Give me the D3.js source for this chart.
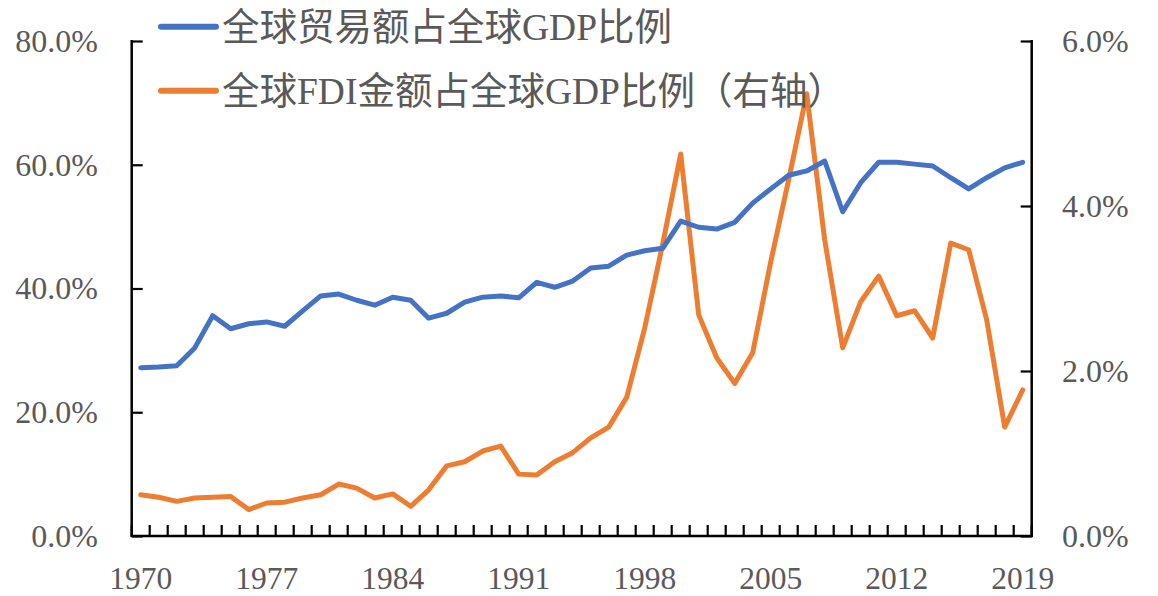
<!DOCTYPE html>
<html>
<head>
<meta charset="utf-8">
<script src="https://cdn.jsdelivr.net/npm/d3@7"></script>
<style>
  html, body { margin: 0; padding: 0; background: #fff; }
  svg { display: block; }
</style>
</head>
<body>
<svg id="chart" width="1158" height="596"></svg>
<script>
const years = d3.range(1970, 2020);
const tradeShare = [27.2, 27.3, 27.5, 30.4, 35.6, 33.5, 34.3, 34.6, 33.9, 36.4,
                    38.8, 39.1, 38.1, 37.3, 38.6, 38.1, 35.2, 36.0, 37.8, 38.6,
                    38.8, 38.5, 41.0, 40.2, 41.2, 43.3, 43.6, 45.4, 46.1, 46.5,
                    50.9, 49.9, 49.6, 50.7, 53.8, 56.1, 58.3, 59.0, 60.6, 52.4,
                    57.1, 60.4, 60.4, 60.1, 59.8, 57.9, 56.1, 57.9, 59.5, 60.4];
const fdiShare = [0.50, 0.47, 0.42, 0.46, 0.47, 0.48, 0.32, 0.40, 0.41, 0.46,
                  0.50, 0.63, 0.58, 0.46, 0.51, 0.36, 0.56, 0.85, 0.90, 1.03,
                  1.09, 0.75, 0.74, 0.90, 1.01, 1.19, 1.32, 1.68, 2.52, 3.54,
                  4.63, 2.68, 2.16, 1.85, 2.22, 3.32, 4.32, 5.36, 3.59, 2.28,
                  2.84, 3.15, 2.67, 2.73, 2.40, 3.55, 3.47, 2.62, 1.32, 1.77];
const leftTicks = [0, 20, 40, 60, 80];
const rightTicks = [0, 2, 4, 6];
const xLabelYears = [1970, 1977, 1984, 1991, 1998, 2005, 2012, 2019];
const seriesNames = ["全球贸易额占全球GDP比例", "全球FDI金额占全球GDP比例（右轴）"];
const seriesColors = ["#4472C4", "#ED7D31"];

(function () {
const svg = d3.select("#chart");
const pLeft = 131.7, pRight = 1031.7, pTop = 41, pBottom = 536;
const textColor = "#595959";
const numFont = "'Liberation Serif', 'Times New Roman', serif";
const legFont = "'Liberation Serif', 'Noto Sans CJK SC', serif";

const x = d3.scaleBand().domain(years).range([pLeft, pRight]).padding(0);
const yL = d3.scaleLinear().domain([0, 80]).range([pBottom, pTop]);
const yR = d3.scaleLinear().domain([0, 6]).range([pBottom, pTop]);
const cx = d => x(d) + x.bandwidth() / 2;

// Lines
const lineL = d3.line().x((d, i) => cx(years[i])).y(d => yL(d));
const lineR = d3.line().x((d, i) => cx(years[i])).y(d => yR(d));

svg.append("path").datum(fdiShare).attr("d", lineR)
  .attr("fill", "none").attr("stroke", seriesColors[1]).attr("stroke-width", 5)
  .attr("stroke-linejoin", "round").attr("stroke-linecap", "round");
svg.append("path").datum(tradeShare).attr("d", lineL)
  .attr("fill", "none").attr("stroke", seriesColors[0]).attr("stroke-width", 5)
  .attr("stroke-linejoin", "round").attr("stroke-linecap", "round");

// Left axis
const axL = svg.append("g").attr("transform", `translate(${pLeft},0)`)
  .call(d3.axisRight(yL).tickValues(leftTicks).tickSize(11).tickFormat(""));
axL.select(".domain").remove();
axL.selectAll(".tick line").attr("stroke", "#000").attr("stroke-width", 2.2);
svg.append("line").attr("x1", pLeft).attr("x2", pLeft).attr("y1", pTop - 1).attr("y2", pBottom + 1)
  .attr("stroke", "#000").attr("stroke-width", 2.5);
svg.append("g").selectAll("text").data(leftTicks).join("text")
  .attr("x", 98).attr("y", d => yL(d) + 10.8)
  .attr("text-anchor", "end").attr("fill", textColor)
  .attr("font-family", numFont).attr("font-size", 32)
  .text(d => d3.format(".1f")(d) + "%");

// Right axis
const axR = svg.append("g").attr("transform", `translate(${pRight},0)`)
  .call(d3.axisLeft(yR).tickValues(rightTicks).tickSize(11).tickFormat(""));
axR.select(".domain").remove();
axR.selectAll(".tick line").attr("stroke", "#000").attr("stroke-width", 2.2);
svg.append("line").attr("x1", pRight).attr("x2", pRight).attr("y1", pTop - 1).attr("y2", pBottom + 1)
  .attr("stroke", "#000").attr("stroke-width", 2.5);
svg.append("g").selectAll("text").data(rightTicks).join("text")
  .attr("x", 1062).attr("y", d => yR(d) + 10.8)
  .attr("text-anchor", "start").attr("fill", textColor)
  .attr("font-family", numFont).attr("font-size", 32)
  .text(d => d3.format(".1f")(d) + "%");

// Bottom axis with category boundary ticks
const boundaries = years.map(d => x(d)).concat([pRight]);
svg.append("g").selectAll("line").data(boundaries).join("line")
  .attr("x1", d => d).attr("x2", d => d).attr("y1", pBottom).attr("y2", pBottom - 11)
  .attr("stroke", "#000").attr("stroke-width", 2.2);
svg.append("line").attr("x1", pLeft - 1).attr("x2", pRight + 1).attr("y1", pBottom).attr("y2", pBottom)
  .attr("stroke", "#000").attr("stroke-width", 2.5);
svg.append("g").selectAll("text").data(xLabelYears).join("text")
  .attr("x", d => cx(d)).attr("y", 589)
  .attr("text-anchor", "middle").attr("fill", textColor)
  .attr("font-family", numFont).attr("font-size", 31.5)
  .text(d => d);

// Legend
const legY = [26.7, 90.7];
const leg = svg.append("g");
seriesNames.forEach((name, i) => {
  leg.append("line").attr("x1", 161).attr("x2", 216).attr("y1", legY[i]).attr("y2", legY[i])
    .attr("stroke", seriesColors[i]).attr("stroke-width", 6).attr("stroke-linecap", "round");
  leg.append("text").attr("x", 222).attr("y", legY[i]).attr("dy", "0.36em")
    .attr("fill", textColor).attr("font-family", legFont).attr("font-size", 37.5)
    .text(name);
});
})();
</script>
</body>
</html>
